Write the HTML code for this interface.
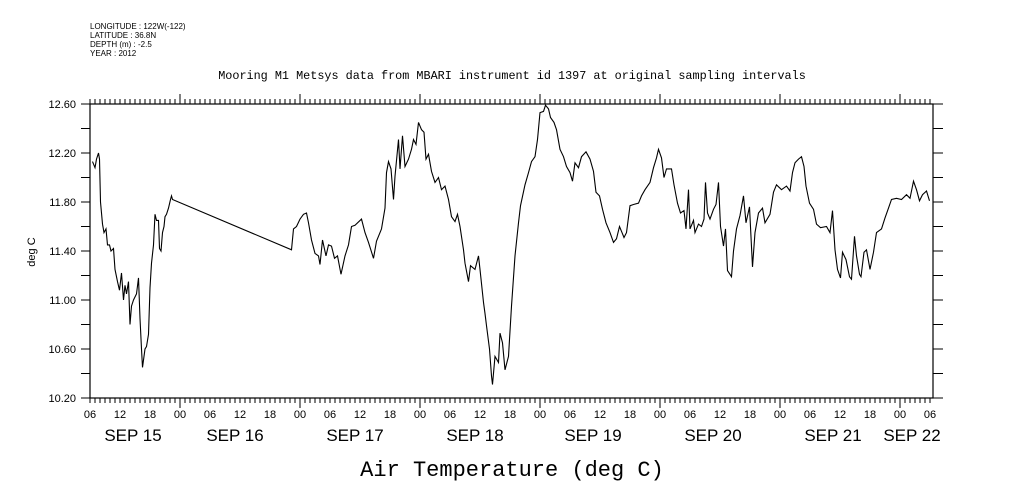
<!DOCTYPE html>
<html><head><meta charset="utf-8"><style>
html,body{margin:0;padding:0;background:#fff;}
svg{display:block;font-family:"Liberation Sans",sans-serif;}
</style></head><body>
<svg width="1009" height="504" viewBox="0 0 1009 504">
<g id="hdr" font-size="8" fill="#000">
<text x="90" y="29">LONGITUDE : 122W(-122)</text>
<text x="90" y="38">LATITUDE : 36.8N</text>
<text x="90" y="47">DEPTH (m) : -2.5</text>
<text x="90" y="56">YEAR : 2012</text>
</g>
<text x="512" y="79" font-size="11.8" font-family="Liberation Mono, monospace" text-anchor="middle">Mooring M1 Metsys data from MBARI instrument id 1397 at original sampling intervals</text>
<text x="35" y="252" font-size="11" text-anchor="middle" transform="rotate(-90 35 252)">deg C</text>
<text x="512" y="476" font-size="22" text-anchor="middle" font-family="Liberation Mono, monospace">Air Temperature (deg C)</text>
<rect x="90" y="104" width="843" height="294" fill="none" stroke="#000" stroke-width="1.2"/>
<g id="axes"></g>
<path id="series" fill="none" stroke="#000" stroke-width="1.1"/>
</svg>
<script>
const times=[0.5,1.0,1.3,1.7,1.9,2.1,2.5,2.8,3.2,3.5,3.9,4.2,4.7,5.0,5.5,5.9,6.3,6.7,7.0,7.3,7.7,8.0,8.3,8.7,9.3,9.7,10.0,10.3,10.5,11.0,11.3,11.7,12.0,12.3,12.7,13.0,13.3,13.7,13.9,14.2,14.5,14.8,15.0,15.3,15.7,16.1,16.3,16.5,
40.3,40.7,41.3,42,42.7,43.3,43.7,44.3,45,45.7,46,46.5,47.2,47.7,48.3,48.9,49.5,50.2,51,51.7,52.3,53,54.3,55,55.7,56.7,57.3,58.3,59,59.3,59.7,60.2,60.7,61,61.7,62,62.5,63,63.7,64.3,64.7,65.2,65.7,66.3,66.8,67.2,67.7,68.3,69,69.7,70.3,71,71.7,72.3,73,73.5,74,74.7,75,75.7,76.1,77,77.7,78,78.7,79,79.3,79.9,80.3,80.5,81,81.7,82,82.5,83,83.7,84.3,85,85.7,86.1,87,87.7,88.3,89,89.5,90,90.7,91.1,91.7,92.1,92.8,93.3,94,94.7,95.3,96,96.5,97,97.7,98.3,99.2,100,100.7,101.2,101.9,102.5,103.2,104,104.7,105.3,105.9,
106.4,106.8,107.3,108,108.7,109.7,110.3,111,112,112.7,113.3,113.7,114.3,114.8,115.3,116.3,116.8,117.5,118.1,118.8,119.2,119.7,120,120.7,121,121.7,122.3,122.8,123.1,123.5,124,124.7,125.2,125.7,126.1,126.7,127.1,127.5,128.3,128.7,129.3,130,130.7,131.2,131.9,132.5,133,133.7,134.5,135,136,136.7,137.3,138.3,139.3,140,140.5,141,141.7,142.3,142.8,143.2,143.9,144.7,145.3,146.1,147.3,148,148.5,149,149.5,150.1,150.5,151.2,151.9,152.3,152.9,153.3,153.9,154.2,154.8,155.3,156,156.7,157.3,158.3,159,159.7,160.3,161.3,162.3,163.3,164,164.7,165.3,165.9,166.5,167.3,167.9];
const temps=[12.13,12.08,12.15,12.20,12.15,11.8,11.62,11.55,11.58,11.45,11.45,11.4,11.42,11.25,11.15,11.08,11.22,11.0,11.12,11.05,11.15,10.8,10.95,11.0,11.05,11.18,10.85,10.6,10.45,10.6,10.62,10.72,11.1,11.3,11.45,11.7,11.65,11.65,11.42,11.40,11.55,11.6,11.68,11.7,11.75,11.82,11.85,11.82,
11.41,11.58,11.6,11.66,11.7,11.71,11.63,11.49,11.38,11.36,11.29,11.49,11.36,11.45,11.44,11.34,11.36,11.21,11.36,11.45,11.6,11.61,11.66,11.55,11.47,11.34,11.48,11.58,11.75,12.04,12.13,12.07,11.82,12.01,12.31,12.07,12.34,12.09,12.15,12.23,12.31,12.27,12.45,12.39,12.37,12.15,12.19,12.05,11.96,12.0,11.9,11.93,11.82,11.68,11.64,11.70,11.6,11.41,11.3,11.15,11.28,11.25,11.36,11.25,10.98,10.89,10.79,10.6,10.38,10.31,10.54,10.49,10.73,10.65,10.43,10.54,10.95,11.36,11.63,11.77,11.94,12.04,12.13,12.17,12.31,12.53,12.54,12.59,12.56,12.49,12.45,12.39,12.23,12.17,12.09,12.04,11.97,12.12,12.08,12.17,12.21,12.15,12.05,11.88,11.85,11.74,11.63,11.55,11.47,11.5,11.6,
11.55,11.51,11.55,11.77,11.78,11.79,11.85,11.90,11.96,12.08,12.16,12.23,12.16,12.0,12.07,12.07,11.94,11.79,11.71,11.73,11.58,11.90,11.58,11.65,11.55,11.62,11.60,11.66,11.96,11.71,11.66,11.74,11.78,11.96,11.60,11.44,11.58,11.24,11.19,11.40,11.58,11.69,11.85,11.63,11.76,11.27,11.55,11.71,11.75,11.63,11.70,11.88,11.94,11.90,11.93,11.89,12.04,12.12,12.15,12.17,12.09,11.93,11.79,11.74,11.62,11.59,11.60,11.55,11.73,11.41,11.25,11.18,11.39,11.33,11.19,11.17,11.52,11.36,11.21,11.19,11.39,11.41,11.25,11.39,11.55,11.58,11.67,11.75,11.82,11.83,11.82,11.86,11.83,11.97,11.90,11.81,11.86,11.89,11.81];
const yTicks=[10.2,10.6,11.0,11.4,11.8,12.2,12.6];
const yTickLabels=["10.20","10.60","11.00","11.40","11.80","12.20","12.60"];
const hourLabels=["06","12","18","00","06","12","18","00","06","12","18","00","06","12","18","00","06","12","18","00","06","12","18","00","06","12","18","00","06"];
const dayLabels=["SEP 15","SEP 16","SEP 17","SEP 18","SEP 19","SEP 20","SEP 21","SEP 22"];
const dayLabelX=[133,235,355,475,593,713,833,912];

const X0=90,X1=933,T0=0,T1=168.6,Y0=398,Y1=104,V0=10.2,V1=12.6;
const sx=t=>X0+(t-T0)/(T1-T0)*(X1-X0);
const sy=v=>Y0-(v-V0)/(V1-V0)*(Y0-Y1);
const NS="http://www.w3.org/2000/svg";
const ax=document.getElementById('axes');
function line(x1,y1,x2,y2,name){const l=document.createElementNS(NS,'line');
l.setAttribute('x1',x1);l.setAttribute('y1',y1);l.setAttribute('x2',x2);l.setAttribute('y2',y2);
l.setAttribute('stroke','#000');l.setAttribute('stroke-width','1');


ax.appendChild(l);}
function text(x,y,s,size,anchor,name){const t=document.createElementNS(NS,'text');
t.setAttribute('x',x);t.setAttribute('y',y);t.setAttribute('font-size',size);t.setAttribute('text-anchor',anchor);t.textContent=s;


ax.appendChild(t);}
for(let v=V0;v<=V1+1e-6;v+=0.2){const y=sy(v);line(81,y,X0,y,'y-tick');line(X1,y,943,y,'y-tick-right');}
yTicks.forEach((v,i)=>text(76,sy(v)+4,yTickLabels[i],11,'end','y-tick-label'));
for(let h=0;h<=168;h++){const x=sx(h);const day=(h+6)%24===0;
 const len=day?10:5;
 line(x,Y0,x,Y0+len,'x-tick');line(x,Y1,x,Y1-len,'x-tick-top');}
hourLabels.forEach((s,i)=>text(sx(i*6),418,s,11,'middle','x-hour-label'));
dayLabels.forEach((s,i)=>text(dayLabelX[i],441,s,17,'middle','x-day-label'));
let d='';times.forEach((t,i)=>{d+=(i?'L':'M')+sx(t).toFixed(1)+' '+sy(temps[i]).toFixed(1);});
document.getElementById('series').setAttribute('d',d);
</script>
</body></html>
